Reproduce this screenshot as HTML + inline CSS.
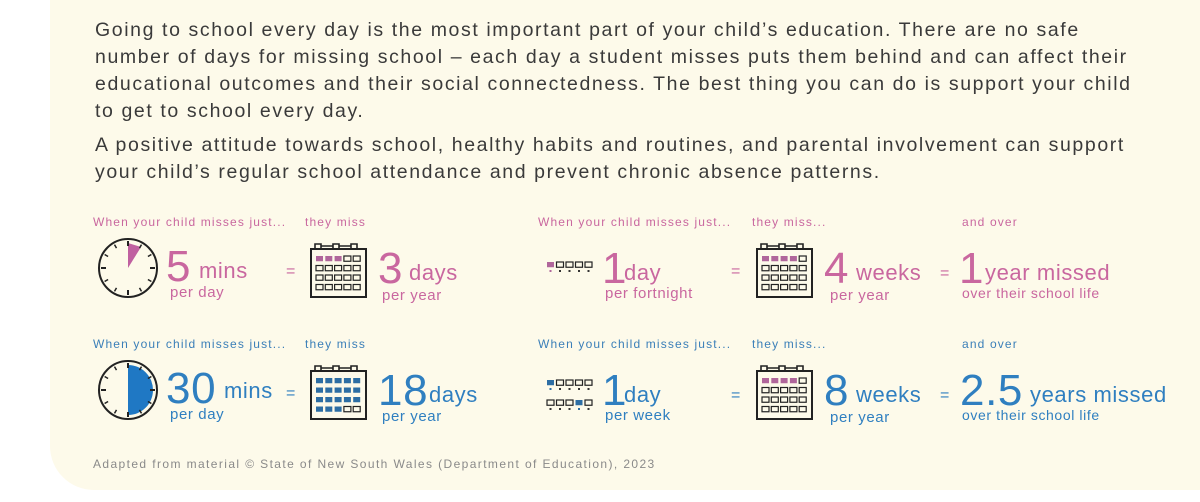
<!DOCTYPE html>
<html><head><meta charset="utf-8"><style>
html,body{margin:0;padding:0;background:#fff;}
body{width:1200px;height:502px;overflow:hidden;position:relative;font-family:"Liberation Sans",sans-serif;}
.bg{position:absolute;left:50px;top:-60px;width:1200px;height:550px;background:#fdfaea;border-radius:44px;}
.p{position:absolute;left:95px;font-size:19.5px;color:#3a3a3a;line-height:27px;letter-spacing:1.6px;white-space:nowrap;}
svg{position:absolute;left:0;top:0;}
.l{letter-spacing:1.15px}
.m{letter-spacing:0.6px}
</style></head><body>
<div class="bg"></div>
<div class="p" style="top:17px">Going to school every day is the most important part of your child’s education. There are no safe<br>number of days for missing school – each day a student misses puts them behind and can affect their<br>educational outcomes and their social connectedness. The best thing you can do is support your child<br>to get to school every day.</div>
<div class="p" style="top:132px">A positive attitude towards school, healthy habits and routines, and parental involvement can support<br>your child’s regular school attendance and prevent chronic absence patterns.</div>
<svg width="1200" height="502" font-family="Liberation Sans, sans-serif">
<defs>
<g id="cal">
 <rect x="0" y="6" width="55" height="48" fill="none" stroke="#222" stroke-width="2"/>
 <path d="M4 6 V1 H10 V6 M10 3 H22 M22 6 V1 H28 V6 M28 3 H40 M40 6 V1 H46 V6" fill="none" stroke="#222" stroke-width="1.6"/>
</g>
</defs>
<g font-size="12" fill="#c9679f" class="l">
 <text x="93" y="226">When your child misses just...</text><text x="305" y="226">they miss</text>
 <text x="538" y="226">When your child misses just...</text><text x="752" y="226">they miss...</text><text x="962" y="226">and over</text>
</g>
<g font-size="12" fill="#3b7fb8" class="l">
 <text x="93" y="348">When your child misses just...</text><text x="305" y="348">they miss</text>
 <text x="538" y="348">When your child misses just...</text><text x="752" y="348">they miss...</text><text x="962" y="348">and over</text>
</g>
<g>
 <circle cx="128" cy="268" r="29" fill="none" stroke="#222" stroke-width="2"/>
 <path d="M128 268 L128 243 L141 247 Z" fill="#c060a0"/>
 <circle cx="128" cy="390" r="29" fill="none" stroke="#222" stroke-width="2"/>
 <path d="M128 365 A25 25 0 0 1 128 415 Z" fill="#1f78c4"/>
 <g id="ticks" stroke="#222" stroke-width="2"></g>
</g>
<g>
 <use href="#cal" x="311" y="243"/><use href="#cal" x="311" y="365"/><use href="#cal" x="757" y="243"/><use href="#cal" x="757" y="365"/>
</g>
<g id="grids"></g>
<g fill="#c9679f" class="m">
 <text x="166" y="281" font-size="44">5</text><text x="199" y="278" font-size="22">mins</text><text x="170" y="297" font-size="15">per day</text>
 <text x="378" y="283" font-size="44">3</text><text x="409" y="280" font-size="22">days</text><text x="382" y="300" font-size="15">per year</text>
 <text x="602" y="283" font-size="44">1</text><text x="624" y="280" font-size="22">day</text><text x="605" y="298" font-size="15">per fortnight</text>
 <text x="824" y="283" font-size="44">4</text><text x="856" y="280" font-size="22">weeks</text><text x="830" y="300" font-size="15">per year</text>
 <text x="959" y="283" font-size="44">1</text><text x="985" y="280" font-size="22">year missed</text><text x="962" y="298" font-size="14">over their school life</text>
 <text x="286" y="276" font-size="16">=</text><text x="731" y="276" font-size="16">=</text><text x="940" y="278" font-size="16">=</text>
</g>
<g fill="#2f7fc0" class="m">
 <text x="166" y="403" font-size="44">30</text><text x="224" y="398" font-size="22">mins</text><text x="170" y="419" font-size="15">per day</text>
 <text x="378" y="405" font-size="44">18</text><text x="429" y="402" font-size="22">days</text><text x="382" y="421" font-size="15">per year</text>
 <text x="602" y="405" font-size="44">1</text><text x="624" y="402" font-size="22">day</text><text x="605" y="420" font-size="15">per week</text>
 <text x="824" y="405" font-size="44">8</text><text x="856" y="402" font-size="22">weeks</text><text x="830" y="422" font-size="15">per year</text>
 <text x="960" y="405" font-size="44">2.5</text><text x="1030" y="402" font-size="22">years missed</text><text x="962" y="420" font-size="14">over their school life</text>
 <text x="286" y="398" font-size="16">=</text><text x="731" y="400" font-size="16">=</text><text x="940" y="400" font-size="16">=</text>
</g>
<text x="93" y="468" font-size="12" fill="#8a8a8a" letter-spacing="1.4">Adapted from material © State of New South Wales (Department of Education), 2023</text>
</svg>
<script>
var ns="http://www.w3.org/2000/svg",g=document.getElementById("grids"),tk=document.getElementById("ticks");
[268,390].forEach(function(cy){for(var i=0;i<12;i++){var a=i*Math.PI/6,big=i%3==0,r1=big?22:23,r2=27;var l=document.createElementNS(ns,"line");
l.setAttribute("x1",128+r1*Math.sin(a));l.setAttribute("y1",cy-r1*Math.cos(a));l.setAttribute("x2",128+r2*Math.sin(a));l.setAttribute("y2",cy-r2*Math.cos(a));
if(!big)l.setAttribute("stroke-width","1.5");tk.appendChild(l);}});
function sq(x,y,w,fill){var r=document.createElementNS(ns,"rect");r.setAttribute("x",x);r.setAttribute("y",y);r.setAttribute("width",w);r.setAttribute("height",w*0.75);
if(fill){r.setAttribute("fill",fill);}else{r.setAttribute("fill","none");r.setAttribute("stroke","#222");r.setAttribute("stroke-width","1.2");}g.appendChild(r);}
function cal(x,y,n,col){var k=0;for(var r=0;r<4;r++)for(var c=0;c<5;c++){sq(x+5+c*9.3,y+13+r*9.5,7,k<n?col:null);k++;}}
cal(311,243,3,"#b0669b");cal(311,365,18,"#2d6ea4");cal(757,243,4,"#b0669b");cal(757,365,4,"#b0669b");
function strip(x,y,fi,col){for(var c=0;c<5;c++){sq(x+c*9.5,y,7,c==fi?col:null);var d=document.createElementNS(ns,"rect");d.setAttribute("x",x+c*9.5+2.5);d.setAttribute("y",y+8);d.setAttribute("width",2);d.setAttribute("height",2);d.setAttribute("fill",c==fi?col:"#333");g.appendChild(d);}}
strip(547,262,0,"#b0669b");strip(547,380,0,"#2d6ea4");strip(547,400,3,"#2d6ea4");
</script>
</body></html>
